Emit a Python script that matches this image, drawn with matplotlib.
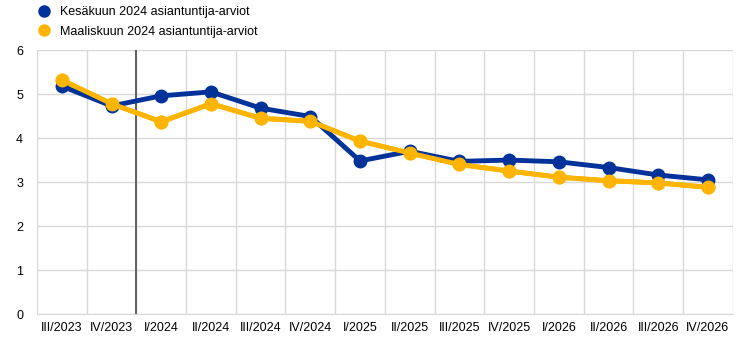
import matplotlib
matplotlib.use("Agg")
import matplotlib.pyplot as plt
import numpy as np

plt.rcParams['font.family'] = ['Liberation Sans', 'DejaVu Sans']

# vuosineljännekset
quarters = ["III/2023", "IV/2023", "I/2024", "II/2024", "III/2024", "IV/2024",
            "I/2025", "II/2025", "III/2025", "IV/2025", "I/2026", "II/2026",
            "III/2026", "IV/2026"]
june_2024 = [5.18, 4.73, 4.96, 5.05, 4.68, 4.49, 3.48, 3.70, 3.47, 3.50,
             3.46, 3.33, 3.16, 3.05]
march_2024 = [5.32, 4.78, 4.37, 4.78, 4.45, 4.38, 3.93, 3.66, 3.40, 3.25,
              3.11, 3.03, 2.98, 2.88]
labels = ["Kesäkuun 2024 asiantuntija-arviot", "Maaliskuun 2024 asiantuntija-arviot"]

blue = "#003299"
yellow = "#FFB400"

fig = plt.figure(figsize=(7.44, 3.43), dpi=100)
ax = fig.add_axes([0.0497, 0.0845, 0.9353, 0.7695])

x = np.arange(len(quarters))
ax.plot(x, march_2024, color=yellow, lw=3.5, marker='o', ms=9, zorder=3, label=labels[1])
ax.plot(x, june_2024, color=blue, lw=3.5, marker='o', ms=9, zorder=4, label=labels[0])
# maaliskuu päälle
ax.plot(x, march_2024, color=yellow, lw=3.5, marker='o', ms=9, zorder=5)

ax.set_xlim(-0.5, len(quarters) - 0.5)
ax.set_ylim(0, 6)
ax.set_yticks(range(0, 7))
ax.set_xticks(x)
ax.set_xticklabels(quarters)
ax.set_xticks(np.arange(-0.5, len(quarters), 1), minor=True)
ax.grid(True, which='major', axis='y', color='#d9d9d9', lw=1)
ax.grid(True, which='minor', axis='x', color='#d9d9d9', lw=1)
ax.axvline(1.5, color='#555555', lw=1.3, zorder=2)
ax.tick_params(which='both', length=0, labelsize=9, colors='#000000')
ax.tick_params(axis='x', pad=6)
ax.tick_params(axis='y', pad=10)
for s in ['top', 'right', 'left']:
    ax.spines[s].set_visible(False)
ax.spines['bottom'].set_color('#d9d9d9')

h, l = ax.get_legend_handles_labels()
leg = fig.legend([h[1], h[0]], [l[1], l[0]], loc='upper left', bbox_to_anchor=(0.035, 1.015),
                 frameon=False, fontsize=9, handlelength=1, handletextpad=0.8,
                 labelspacing=0.6)
for line in leg.get_lines():
    line.set_linestyle('none')
    line.set_markersize(8)

fig.savefig("out.png", dpi=100)
